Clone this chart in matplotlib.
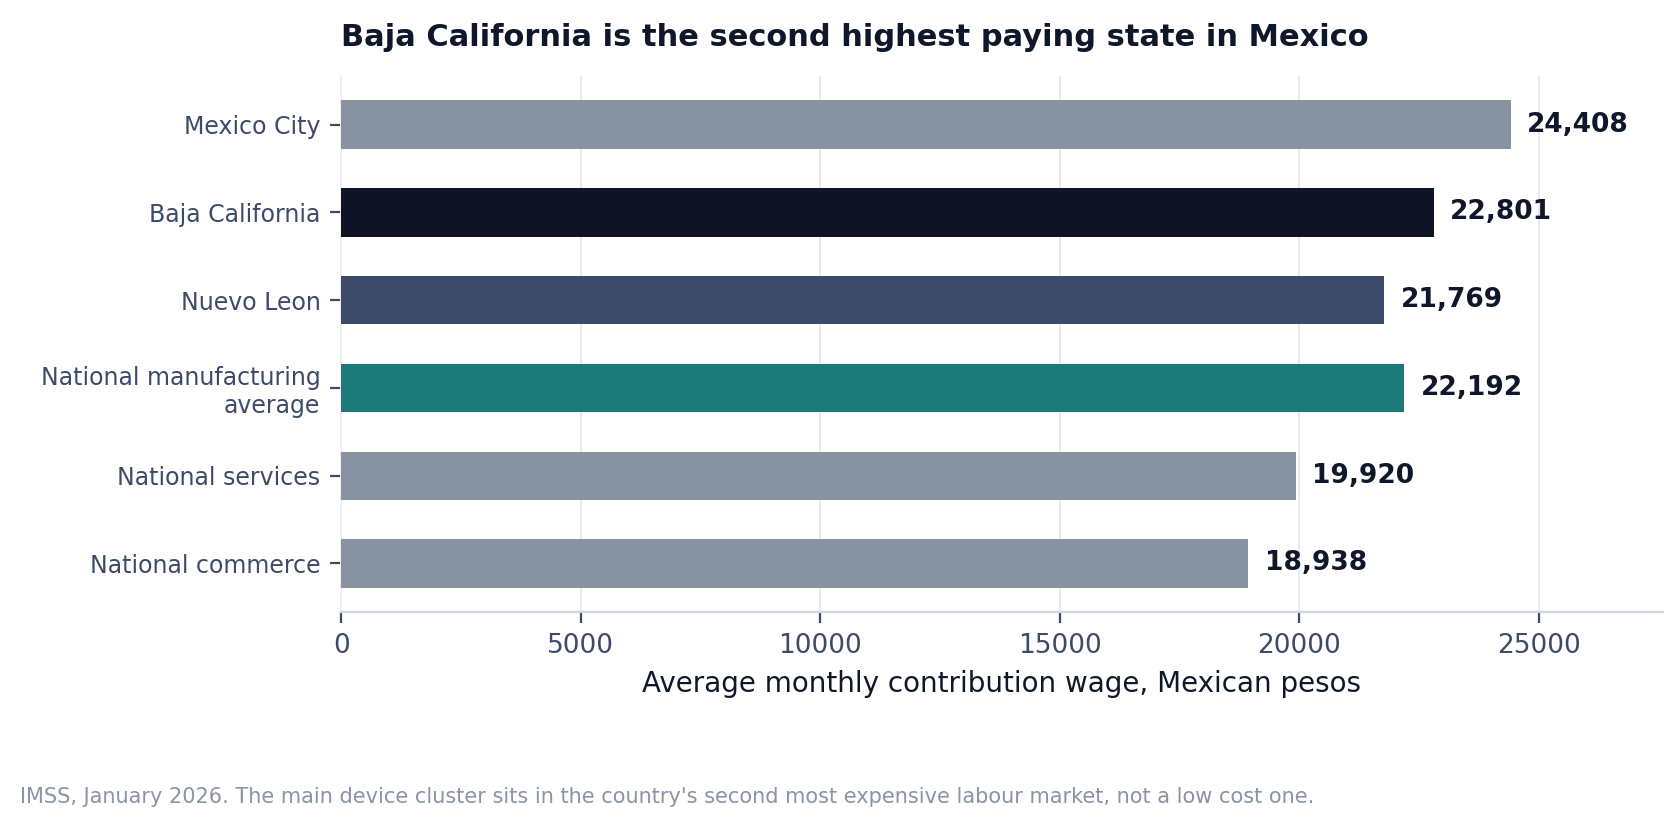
import matplotlib.pyplot as plt

states = ["Mexico City", "Baja California", "Nuevo Leon",
          "National manufacturing\naverage", "National services", "National commerce"]
wages = [24408, 22801, 21769, 22192, 19920, 18938]
barColors = ["#8893a2", "#0e1325", "#3d4b6a", "#1d7a7a", "#8893a2", "#8893a2"]

dark = "#0f172a"
tickCol = "#3d4b6a"

fig = plt.figure(figsize=(8.405, 4.135), dpi=200)
ax = fig.add_axes([0.203, 0.260, 0.786, 0.648])

ypos = list(range(len(states)))
ax.barh(ypos, wages, height=0.55, color=barColors, zorder=3)
ax.set_yticks(ypos)
ax.set_yticklabels(states, fontsize=8.5, color=tickCol)
ax.invert_yaxis()

for y, w in zip(ypos, wages):
    ax.text(w + 350, y, f"{w:,}", va="center", ha="left",
            fontsize=9.5, fontweight="bold", color=dark)

ax.set_xlim(0, max(wages) * 1.13)
ax.set_xticks([0, 5000, 10000, 15000, 20000, 25000])
ax.tick_params(axis="x", labelsize=9.5, colors=tickCol, length=4, width=0.8)
ax.tick_params(axis="y", colors=tickCol, length=4, width=0.8)
ax.grid(axis="x", color="#e5e8ee", linewidth=0.7, zorder=0)
ax.set_axisbelow(True)

for s in ["top", "right"]:
    ax.spines[s].set_visible(False)
ax.spines["left"].set_color("#eef0f4")
ax.spines["left"].set_linewidth(0.7)
ax.spines["bottom"].set_color("#d0d5dd")
ax.spines["bottom"].set_linewidth(0.8)

ax.set_xlabel("Average monthly contribution wage, Mexican pesos",
              fontsize=10, color=dark, labelpad=4)
ax.set_title("Baja California is the second highest paying state in Mexico",
             loc="left", fontsize=11, fontweight="bold", color=dark, pad=11)

fig.text(0.012, 0.024,
         "IMSS, January 2026. The main device cluster sits in the country's second most expensive labour market, not a low cost one.",
         fontsize=7.5, color="#8a94a6", ha="left", va="bottom")

fig.savefig("out.png", dpi=200, facecolor="white")
